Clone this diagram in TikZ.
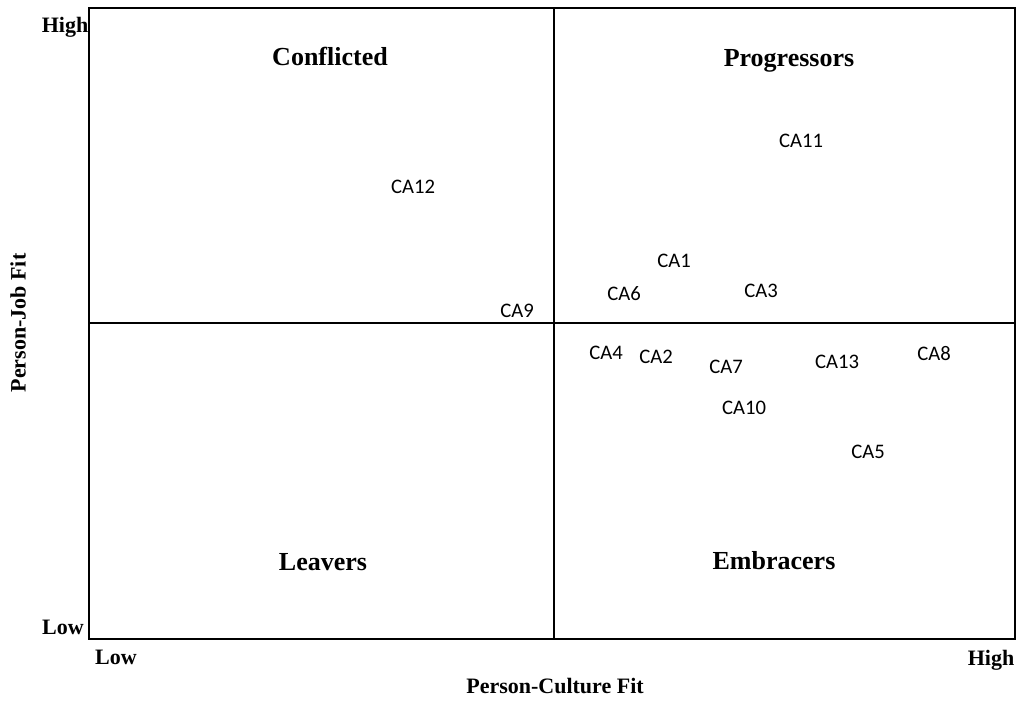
\documentclass[tikz,border=0pt]{standalone}
\usepackage{fontspec}
\setmainfont{Liberation Serif}
\newfontfamily\calib{Carlito}
\begin{document}
\begin{tikzpicture}[x=0.75pt,y=-0.75pt,
  quad/.style={font=\fontsize{19.5}{22}\selectfont\bfseries},
  axlab/.style={font=\fontsize{16.5}{19}\selectfont\bfseries},
  pt/.style={font=\calib\fontsize{15.5}{18}\selectfont},
  frame/.style={line width=1.5pt}]
\useasboundingbox (0,0) rectangle (1016,700);
\coordinate (tl) at (89,8);
\coordinate (br) at (1015,639);
\coordinate (mt) at (554,8);
\coordinate (mb) at (554,639);
\coordinate (ml) at (89,323);
\coordinate (mr) at (1015,323);
\draw[frame] (tl) rectangle (br);
\draw[frame] (mt) -- (mb);
\draw[frame] (ml) -- (mr);
\node[quad] (q1) at (330,56) {Conflicted};
\node[quad] (q2) at (789,61) {Progressors};
\node[quad] (q3) at (323,562) {Leavers};
\node[quad] (q4) at (774,561) {Embracers};
\node[pt] (ca11) at (801,141) {CA11};
\node[pt] (ca12) at (413,187) {CA12};
\node[pt] (ca1) at (674,261) {CA1};
\node[pt] (ca6) at (624,294) {CA6};
\node[pt] (ca3) at (761,291) {CA3};
\node[pt] (ca9) at (517,311) {CA9};
\node[pt] (ca4) at (606,353) {CA4};
\node[pt] (ca2) at (656,357) {CA2};
\node[pt] (ca7) at (726,367) {CA7};
\node[pt] (ca13) at (837,362) {CA13};
\node[pt] (ca8) at (934,354) {CA8};
\node[pt] (ca10) at (744,408) {CA10};
\node[pt] (ca5) at (868,452) {CA5};
\node[axlab] (yh) at (65,27) {High};
\node[axlab] (yl) at (63,627) {Low};
\node[axlab] (xl) at (116,657) {Low};
\node[axlab] (xh) at (991,660) {High};
\node[axlab] (xt) at (555,686) {Person-Culture Fit};
\node[axlab,rotate=90] (yt) at (18,323) {Person-Job Fit};
\end{tikzpicture}
\end{document}
